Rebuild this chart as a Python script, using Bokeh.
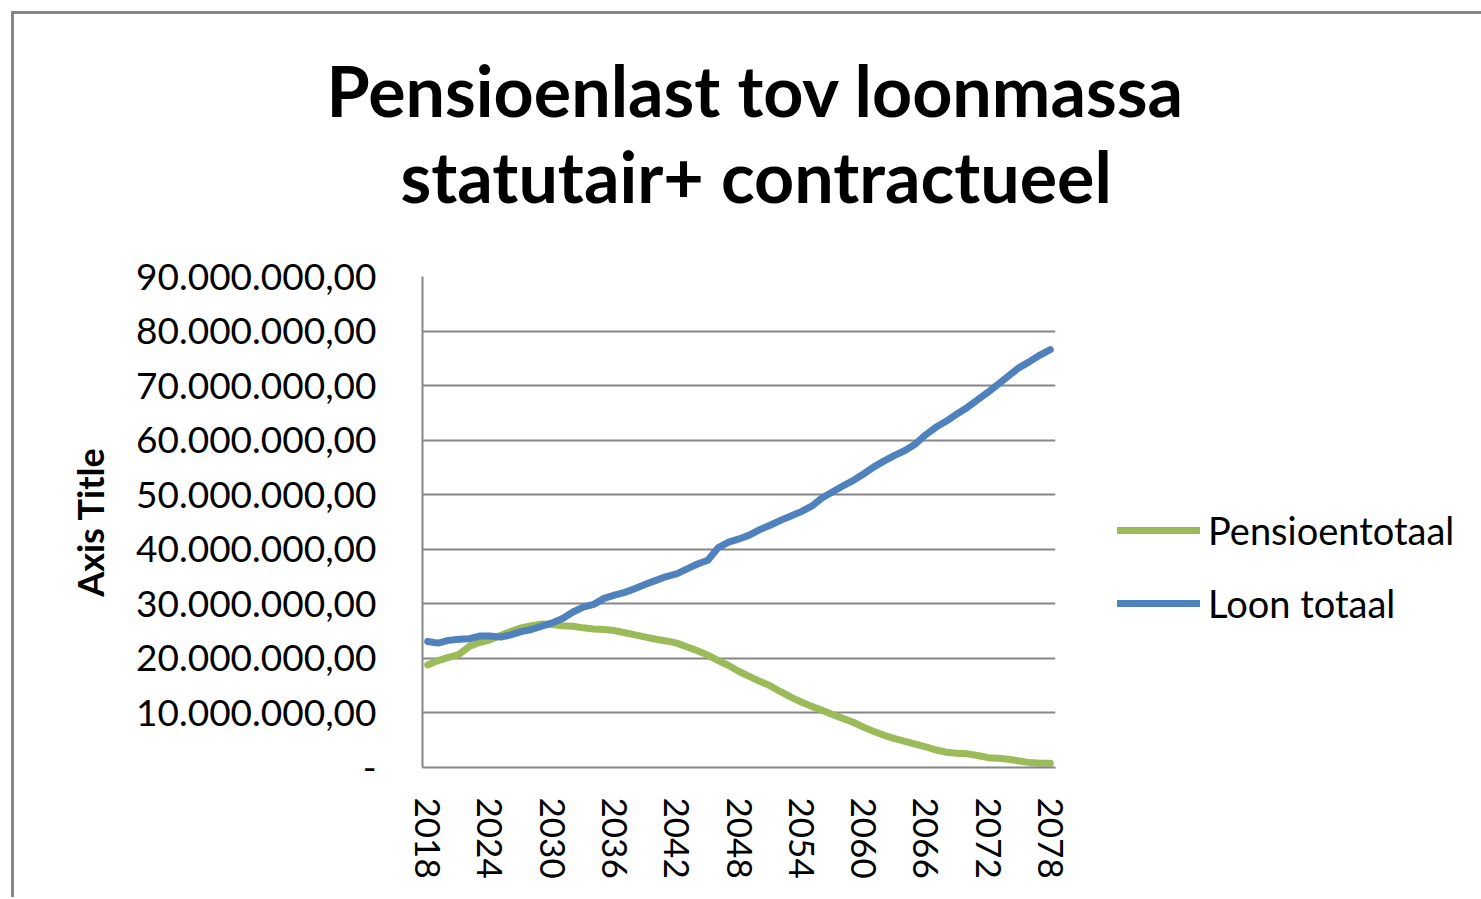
from bokeh.plotting import figure
from bokeh.models import Range1d, FixedTicker, Title, Legend, LegendItem
from bokeh.embed import file_html
from bokeh.resources import INLINE

years = list(range(2018, 2079))

# values in millions
pensioentotaal = [
    18.8, 19.6, 20.2, 20.7, 22.2, 22.9, 23.4, 24.2, 24.9, 25.6,
    26.0, 26.3, 26.2, 26.0, 25.9, 25.6, 25.4, 25.3, 25.1, 24.7,
    24.3, 23.9, 23.5, 23.2, 22.8, 22.1, 21.4, 20.6, 19.6, 18.7,
    17.6, 16.7, 15.8, 15.0, 13.9, 12.9, 12.0, 11.2, 10.5, 9.7,
    9.0, 8.3, 7.4, 6.6, 5.9, 5.3, 4.8, 4.3, 3.8, 3.2,
    2.8, 2.6, 2.5, 2.2, 1.8, 1.7, 1.5, 1.2, 0.9, 0.8,
    0.8,
]
loon_totaal = [
    23.1, 22.8, 23.3, 23.5, 23.6, 24.1, 24.1, 23.9, 24.3, 24.9,
    25.3, 25.9, 26.5, 27.3, 28.5, 29.4, 29.9, 31.0, 31.6, 32.1,
    32.8, 33.6, 34.3, 35.0, 35.5, 36.4, 37.3, 38.0, 40.3, 41.3,
    41.9, 42.6, 43.6, 44.4, 45.3, 46.1, 46.9, 47.9, 49.4, 50.5,
    51.6, 52.6, 53.8, 55.1, 56.2, 57.2, 58.1, 59.3, 61.0, 62.4,
    63.5, 64.8, 66.0, 67.4, 68.8, 70.3, 71.8, 73.3, 74.4, 75.6,
    76.6,
]

y_ticks = [0, 10, 20, 30, 40, 50, 60, 70, 80, 90]
y_tick_labels = ["-", "10.000.000,00", "20.000.000,00", "30.000.000,00",
                 "40.000.000,00", "50.000.000,00", "60.000.000,00",
                 "70.000.000,00", "80.000.000,00", "90.000.000,00"]
x_ticks = [2018, 2024, 2030, 2036, 2042, 2048, 2054, 2060, 2066, 2072, 2078]

title_line1 = "Pensioenlast tov loonmassa"
title_line2 = "statutair+ contractueel"
y_axis_title = "Axis Title"

GREEN = "#9BBB59"
BLUE = "#4F81BD"
GRID = "#868686"
FONT = "Lato"

p = figure(frame_width=633, frame_height=491, output_backend="svg",
           toolbar_location=None,
           x_range=Range1d(2017.5, 2078.5), y_range=Range1d(0, 90),
           min_border_left=422, min_border_top=276, min_border_right=0,
           min_border_bottom=130,
           styles={"box-shadow": "inset 11px 11px 0 0 #ffffff, inset 14px 14px 0 0 #868686"})
p.outline_line_color = None
p.background_fill_color = "white"
p.border_fill_color = None

r_p = p.line(years, pensioentotaal, line_color=GREEN, line_width=7,
             line_cap="round", line_join="round")
r_l = p.line(years, loon_totaal, line_color=BLUE, line_width=7,
             line_cap="round", line_join="round")

# axes
p.xgrid.grid_line_color = None
p.ygrid.grid_line_color = GRID
p.ygrid.grid_line_width = 2
p.yaxis.ticker = FixedTicker(ticks=y_ticks)
p.yaxis.major_label_overrides = {t: l for t, l in zip(y_ticks, y_tick_labels)}
p.yaxis.axis_line_color = GRID
p.yaxis.axis_line_width = 2
p.yaxis.major_tick_line_color = None
p.yaxis.minor_tick_line_color = None
p.yaxis.major_tick_out = 0
p.yaxis.major_tick_in = 0
p.yaxis.minor_tick_out = 0
p.yaxis.major_label_text_font = FONT
p.yaxis.major_label_text_font_size = "37px"
p.yaxis.major_label_text_color = "black"
p.yaxis.major_label_standoff = 46
p.yaxis.axis_label = y_axis_title
p.yaxis.axis_label_text_font = FONT
p.yaxis.axis_label_text_font_size = "36px"
p.yaxis.axis_label_text_font_style = "bold"
p.yaxis.axis_label_text_color = "black"
p.yaxis.axis_label_standoff = 21

p.xaxis.ticker = FixedTicker(ticks=x_ticks)
p.xaxis.major_label_overrides = {t: str(t) for t in x_ticks}
p.xaxis.axis_line_color = GRID
p.xaxis.axis_line_width = 2
p.xaxis.major_tick_line_color = None
p.xaxis.minor_tick_line_color = None
p.xaxis.major_tick_out = 0
p.xaxis.major_tick_in = 0
p.xaxis.minor_tick_out = 0
p.xaxis.major_label_orientation = "vertical"
p.xaxis.major_label_text_font = FONT
p.xaxis.major_label_text_font_size = "35px"
p.xaxis.major_label_text_color = "black"
p.xaxis.major_label_standoff = 30

# titles: a thin spacer closest to the frame, then line 2, then line 1
p.add_layout(Title(text="\u00a0", align="left", text_font=FONT,
                   text_font_size="1px", text_color="white", standoff=56), "above")
p.add_layout(Title(text=title_line2, align="left", text_font=FONT,
                   text_font_size="70px", text_font_style="bold",
                   text_color="black", offset=-22, standoff=0), "above")
p.add_layout(Title(text=title_line1, align="left", text_font=FONT,
                   text_font_size="70px", text_font_style="bold",
                   text_color="black", offset=-96, standoff=0), "above")

legend = Legend(items=[LegendItem(label="Pensioentotaal", renderers=[r_p]),
                       LegendItem(label="Loon totaal", renderers=[r_l])],
                location=(62, 141), orientation="vertical",
                glyph_width=83, glyph_height=40, label_height=40,
                label_standoff=8, spacing=27, padding=0, margin=0,
                border_line_color=None, background_fill_alpha=0,
                label_text_font=FONT, label_text_font_size="38px",
                label_text_color="black")
p.add_layout(legend, "right")

open("out.html", "w").write(file_html(p, INLINE))
